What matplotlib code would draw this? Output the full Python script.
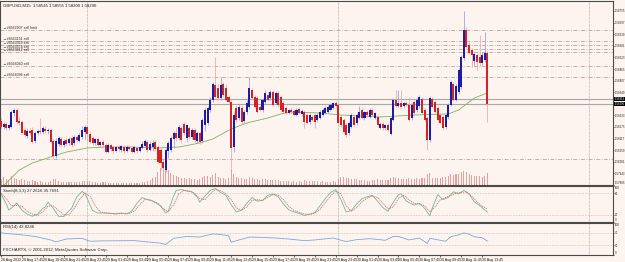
import matplotlib
matplotlib.use('Agg')
import matplotlib.pyplot as plt
import matplotlib.transforms as mtransforms
from matplotlib import font_manager

W, H = 625, 262
BG = '#fdf4ef'

# ---------------- data (GBPUSD M15, bar 0 = 28 Aug 2012 15:45) ----------------
open_ = [1.58205,1.58175,1.58190,1.58170,1.58175,1.58245,1.58260,1.58205,1.58200,1.58160,
 1.58130,1.58155,1.58160,1.58105,1.58145,1.58155,1.58150,1.58165,1.58155,1.58160,
 1.58105,1.58030,1.58090,1.58115,1.58085,1.58110,1.58095,1.58120,1.58095,1.58125,
 1.58105,1.58125,1.58150,1.58175,1.58140,1.58120,1.58095,1.58115,1.58085,1.58100,
 1.58085,1.58050,1.58085,1.58075,1.58055,1.58075,1.58060,1.58075,1.58055,1.58075,
 1.58070,1.58050,1.58070,1.58055,1.58070,1.58080,1.58100,1.58060,1.58075,1.58100,
 1.58075,1.58060,1.58000,1.57960,1.58055,1.58060,1.58115,1.58145,1.58120,1.58170,
 1.58190,1.58120,1.58170,1.58125,1.58160,1.58105,1.58145,1.58105,1.58185,1.58195,
 1.58260,1.58310,1.58385,1.58370,1.58320,1.58390,1.58370,1.58325,1.58300,1.58075,
 1.58270,1.58220,1.58270,1.58205,1.58250,1.58275,1.58360,1.58325,1.58320,1.58275,
 1.58260,1.58300,1.58335,1.58320,1.58350,1.58295,1.58345,1.58325,1.58295,1.58270,
 1.58245,1.58260,1.58255,1.58235,1.58265,1.58240,1.58250,1.58235,1.58200,1.58225,
 1.58235,1.58210,1.58220,1.58235,1.58245,1.58250,1.58260,1.58270,1.58295,1.58285,
 1.58225,1.58210,1.58185,1.58145,1.58175,1.58225,1.58195,1.58220,1.58260,1.58220,
 1.58250,1.58225,1.58260,1.58220,1.58225,1.58170,1.58190,1.58170,1.58185,1.58140,
 1.58210,1.58310,1.58280,1.58295,1.58280,1.58295,1.58285,1.58220,1.58300,1.58260,
 1.58280,1.58315,1.58260,1.58220,1.58110,1.58315,1.58300,1.58270,1.58235,1.58225,
 1.58175,1.58225,1.58285,1.58390,1.58310,1.58350,1.58375,1.58520,1.58660,1.58585,
 1.58560,1.58505,1.58535,1.58525,1.58495,1.58510,1.58545]
high = [1.58220,1.58200,1.58200,1.58190,1.58260,1.58270,1.58270,1.58225,1.58210,1.58175,
 1.58170,1.58170,1.58175,1.58155,1.58165,1.58220,1.58180,1.58180,1.58170,1.58170,
 1.58115,1.58120,1.58130,1.58125,1.58115,1.58125,1.58125,1.58130,1.58135,1.58135,
 1.58145,1.58180,1.58185,1.58180,1.58150,1.58130,1.58120,1.58125,1.58105,1.58110,
 1.58095,1.58095,1.58090,1.58080,1.58080,1.58085,1.58085,1.58085,1.58085,1.58085,
 1.58080,1.58080,1.58075,1.58080,1.58105,1.58115,1.58110,1.58105,1.58110,1.58110,
 1.58085,1.58075,1.58020,1.58070,1.58105,1.58130,1.58155,1.58170,1.58185,1.58180,
 1.58200,1.58190,1.58180,1.58170,1.58170,1.58155,1.58155,1.58220,1.58270,1.58280,
 1.58325,1.58400,1.58525,1.58390,1.58425,1.58400,1.58390,1.58335,1.58310,1.58250,
 1.58285,1.58290,1.58280,1.58260,1.58310,1.58425,1.58370,1.58335,1.58330,1.58285,
 1.58320,1.58360,1.58350,1.58360,1.58360,1.58355,1.58355,1.58335,1.58305,1.58280,
 1.58265,1.58275,1.58265,1.58270,1.58275,1.58265,1.58260,1.58245,1.58245,1.58235,
 1.58245,1.58245,1.58260,1.58270,1.58280,1.58285,1.58295,1.58300,1.58305,1.58295,
 1.58235,1.58220,1.58195,1.58205,1.58245,1.58235,1.58245,1.58280,1.58270,1.58255,
 1.58260,1.58270,1.58270,1.58250,1.58235,1.58200,1.58200,1.58190,1.58195,1.58225,
 1.58320,1.58360,1.58360,1.58360,1.58300,1.58305,1.58325,1.58295,1.58310,1.58320,
 1.58335,1.58325,1.58270,1.58230,1.58330,1.58325,1.58310,1.58280,1.58245,1.58235,
 1.58245,1.58295,1.58410,1.58400,1.58390,1.58470,1.58535,1.58755,1.58675,1.58600,
 1.58570,1.58550,1.58545,1.58635,1.58550,1.58650,1.58555]
low = [1.58165,1.58165,1.58160,1.58160,1.58170,1.58230,1.58190,1.58185,1.58140,1.58125,
 1.58120,1.58135,1.58095,1.58095,1.58135,1.58140,1.58140,1.58145,1.58140,1.58095,
 1.58020,1.58020,1.58080,1.58075,1.58075,1.58080,1.58085,1.58075,1.58085,1.58100,
 1.58100,1.58115,1.58115,1.58105,1.58095,1.58085,1.58085,1.58075,1.58075,1.58075,
 1.58045,1.58045,1.58055,1.58045,1.58050,1.58055,1.58050,1.58045,1.58050,1.58060,
 1.58045,1.58045,1.58045,1.58050,1.58065,1.58075,1.58050,1.58055,1.58055,1.58055,
 1.57995,1.57960,1.57950,1.57950,1.58020,1.58050,1.58070,1.58105,1.58110,1.58095,
 1.58135,1.58100,1.58115,1.58115,1.58100,1.58095,1.58090,1.58095,1.58155,1.58185,
 1.58250,1.58300,1.58320,1.58310,1.58310,1.58325,1.58305,1.58290,1.57970,1.58050,
 1.58200,1.58210,1.58190,1.58195,1.58240,1.58265,1.58310,1.58270,1.58245,1.58255,
 1.58250,1.58290,1.58305,1.58310,1.58280,1.58285,1.58275,1.58255,1.58245,1.58240,
 1.58240,1.58240,1.58230,1.58230,1.58240,1.58230,1.58170,1.58190,1.58190,1.58205,
 1.58170,1.58200,1.58215,1.58230,1.58240,1.58245,1.58255,1.58265,1.58275,1.58190,
 1.58175,1.58145,1.58125,1.58135,1.58170,1.58180,1.58185,1.58215,1.58215,1.58210,
 1.58230,1.58220,1.58230,1.58215,1.58180,1.58165,1.58160,1.58160,1.58155,1.58135,
 1.58205,1.58275,1.58275,1.58270,1.58270,1.58280,1.58205,1.58210,1.58240,1.58250,
 1.58270,1.58240,1.58205,1.58060,1.58100,1.58270,1.58245,1.58205,1.58190,1.58160,
 1.58165,1.58215,1.58280,1.58305,1.58305,1.58340,1.58365,1.58510,1.58570,1.58540,
 1.58475,1.58480,1.58460,1.58480,1.58485,1.58500,1.58200]
close = [1.58175,1.58190,1.58170,1.58185,1.58250,1.58260,1.58200,1.58195,1.58145,1.58135,
 1.58155,1.58145,1.58100,1.58145,1.58155,1.58150,1.58170,1.58155,1.58160,1.58100,
 1.58030,1.58105,1.58120,1.58085,1.58105,1.58090,1.58115,1.58085,1.58125,1.58110,
 1.58135,1.58160,1.58175,1.58140,1.58100,1.58095,1.58115,1.58085,1.58100,1.58085,
 1.58050,1.58085,1.58065,1.58055,1.58075,1.58065,1.58080,1.58055,1.58075,1.58065,
 1.58050,1.58075,1.58055,1.58075,1.58090,1.58105,1.58060,1.58090,1.58095,1.58065,
 1.58000,1.57995,1.57970,1.58060,1.58095,1.58120,1.58145,1.58120,1.58175,1.58110,
 1.58145,1.58185,1.58125,1.58160,1.58110,1.58145,1.58100,1.58210,1.58260,1.58270,
 1.58310,1.58390,1.58325,1.58320,1.58385,1.58335,1.58310,1.58300,1.58070,1.58235,
 1.58210,1.58275,1.58200,1.58250,1.58295,1.58370,1.58320,1.58275,1.58250,1.58260,
 1.58310,1.58345,1.58310,1.58350,1.58285,1.58345,1.58285,1.58260,1.58250,1.58245,
 1.58260,1.58250,1.58235,1.58260,1.58245,1.58255,1.58200,1.58195,1.58235,1.58210,
 1.58200,1.58235,1.58250,1.58260,1.58270,1.58275,1.58285,1.58295,1.58280,1.58195,
 1.58185,1.58150,1.58135,1.58195,1.58235,1.58185,1.58235,1.58250,1.58220,1.58250,
 1.58235,1.58260,1.58235,1.58245,1.58185,1.58190,1.58170,1.58185,1.58160,1.58220,
 1.58310,1.58280,1.58295,1.58275,1.58295,1.58285,1.58210,1.58285,1.58245,1.58310,
 1.58325,1.58245,1.58210,1.58110,1.58320,1.58275,1.58250,1.58210,1.58195,1.58170,
 1.58235,1.58285,1.58400,1.58310,1.58380,1.58460,1.58525,1.58660,1.58575,1.58545,
 1.58535,1.58540,1.58500,1.58495,1.58535,1.58545,1.58290]
volume = [350,420,300,280,480,380,300,260,330,280, 240,200,260,220,180,210,190,170,160,230,
 330,300,200,180,160,150,170,140,160,150, 180,220,240,200,220,160,150,130,120,140,
 150,130,110,120,100,110,90,100,110,90, 120,100,110,130,160,180,200,260,380,450,
 700,900,1000,950,800,650,550,480,420,380, 400,350,380,300,330,280,350,420,500,480,
 450,560,650,420,400,360,350,380,850,620, 420,380,400,330,350,450,380,320,300,280,
 300,320,280,260,290,270,250,240,230,210, 200,190,210,180,200,190,260,240,220,200,
 230,210,190,200,180,170,190,200,180,300, 420,450,400,380,350,300,320,280,260,250,
 240,230,260,250,300,280,260,250,270,380, 450,400,380,350,330,300,380,350,330,360,
 340,380,400,600,650,400,380,360,400,420, 450,500,600,550,580,620,680,750,700,600,
 520,480,500,470,450,500,650]

ma_bar = [0,2,7,12,19,25,33,40,50,60,68,76,81,88,94,102,107,111,122,130,145,158,171,175,178,181,186]
ma_val = [1.57870,1.57895,1.57960,1.57995,1.58025,1.58050,1.58070,1.58075,1.58075,1.58070,
          1.58075,1.58095,1.58115,1.58165,1.58195,1.58220,1.58240,1.58250,1.58245,1.58235,
          1.58225,1.58235,1.58240,1.58260,1.58290,1.58320,1.58345]

stoch_bar = [0,2,3,5,6,8,10,12,14,16,17,18,20,22,24,25,27,29,31,32,33,35,37,39,42,44,46,48,50,52,
             54,56,58,61,63,64,66,67,69,71,73,75,76,78,80,82,84,86,88,90,92,94,96,98,100,102,104,
             106,108,110,112,114,116,118,120,122,124,126,128,130,132,134,136,138,140,142,144,146,
             148,150,152,153,155,158,160,162,164,165,167,169,171,173,175,177,179,181,183,186]
stoch_main = [78,50,33,45,53,33,22,16,22,38,42,55,38,16,15,24,38,70,85,80,65,32,25,25,24,22,25,22,
              30,52,68,62,58,45,25,31,72,88,90,86,84,70,55,72,88,93,82,74,48,28,33,52,68,58,60,74,
              78,70,50,34,28,24,18,22,26,45,65,82,90,62,28,32,50,64,70,74,58,40,30,55,76,78,58,47,
              52,38,17,40,76,62,68,84,78,88,78,56,46,27.2616]
sig_bar = [0,2,4,6,8,10,12,14,16,18,20,22,24,26,28,30,32,34,36,38,40,43,46,49,51,53,55,57,60,62,64,
           66,68,70,72,74,76,78,80,82,84,86,88,90,92,94,96,98,100,102,104,106,108,110,112,114,116,
           118,120,122,124,126,128,130,132,134,136,138,140,142,144,146,148,150,152,154,156,158,160,
           162,164,166,168,170,172,174,176,178,180,182,184,186]
stoch_sig = [80,65,45,46,44,30,22,18,28,44,45,32,20,20,38,62,80,72,45,28,25,24,24,24,30,48,62,62,
             52,38,28,48,78,88,86,80,65,62,78,90,87,78,62,40,32,42,60,62,60,68,76,75,62,44,32,27,22,
             21,24,35,54,72,86,78,45,30,40,56,66,72,68,52,36,42,65,74,62,52,50,45,28,42,62,68,74,80,
             82,84,72,56,44,35.7691]

rsi_bar = [0,8,13,19,21,25,31,34,38,51,61,63,66,71,76,81,84,87,88,91,95,100,105,110,116,120,127,
           131,132,136,141,147,150,152,156,160,163,164,168,170,172,175,177,179,181,184,186]
rsi_val = [69,63,58,47,41,50,52,43,44,45,37,33,52,58,56,66,64,60,40,47,56,55,53,50,45,47,53,44,42,
           48,51,46,58,58,47,53,36,52,46,43,57,63,69,65,57,54,43.8246]

order_price = [1.58660,1.58605,1.58585,1.58565,1.58550,1.58480,1.58425]
order_label = ['#4562907 sell limit','#4563151 sell','#4563369 sell','#4563574 sell',
               '#4563612 sell','#4564040 sell','#4564396 sell']
extra_level = 1.58015
ask_price = 1.58315
bid_price = 1.58290

price_ticks = [1.58755,1.58697,1.58639,1.58581,1.58523,1.58465,1.58407,1.58349,1.58233,
               1.58175,1.58117,1.58059,1.58001,1.57943,1.57885]
time_ticks = list(range(0, 185, 8))
time_labels = ['28 Aug 2012','28 Aug 17:45','28 Aug 19:45','28 Aug 21:45','28 Aug 23:45',
               '29 Aug 01:45','29 Aug 03:45','29 Aug 05:45','29 Aug 07:45','29 Aug 09:45',
               '29 Aug 11:45','29 Aug 13:45','29 Aug 15:45','29 Aug 17:45','29 Aug 19:45',
               '29 Aug 21:45','29 Aug 23:45','30 Aug 01:45','30 Aug 03:45','30 Aug 05:45',
               '30 Aug 07:45','30 Aug 09:45','30 Aug 11:45','30 Aug 13:45']
day_breaks = [33, 129, 225]

# ---------------- figure ----------------
plt.rcParams['font.family'] = ['Liberation Sans', 'DejaVu Sans']
names = {f.name for f in font_manager.fontManager.ttflist}
NARROW = ['Liberation Sans Narrow'] if 'Liberation Sans Narrow' in names else ['Liberation Sans']

fig = plt.figure(figsize=(6.25, 2.62), dpi=100)
fig.patch.set_facecolor(BG)

def fy(py):
    return 1 - py / H

PX = 2.615
xl = (-1 / PX, (613 - 1) / PX)
TXT = '#202020'
FS = 3.1
FSR = 2.4 if NARROW[0].endswith('Narrow') else 2.05

ax = fig.add_axes([0, fy(185), 613 / W, 184 / H])
axs = fig.add_axes([0, fy(222), 613 / W, 36 / H])
axr = fig.add_axes([0, fy(255), 613 / W, 32 / H])

# volume on its own (twin) scale
axv = ax.twinx()
axv.set_ylim(0, 10000)
axv.set_yticks([])
for s in axv.spines.values():
    s.set_visible(False)
axv.bar(range(len(volume)), volume, width=0.4, color='#e6a0a0', lw=0, zorder=1)
ax.set_zorder(axv.get_zorder() + 1)
ax.patch.set_visible(False)
axv.set_xlim(*xl)
fig.patches.append(plt.Rectangle((0, fy(185)), 613 / W, 184 / H, transform=fig.transFigure,
                                 facecolor=BG, edgecolor='none', zorder=-10))

for a in (ax, axs, axr):
    a.set_xlim(*xl)
    for s in a.spines.values():
        s.set_color('#4a4a4a')
        s.set_linewidth(0.8)
    a.tick_params(axis='x', bottom=False, labelbottom=False)
    a.yaxis.tick_right()
    a.tick_params(axis='y', left=False, labelleft=False, right=True, labelright=True,
                  length=1.0, width=0.5, labelsize=FSR, pad=0.3, colors=TXT)
    for d in day_breaks:
        a.axvline(d, color='#9a9a9a', lw=0.5, ls=(0, (1, 1)), zorder=1)
axs.set_facecolor(BG)
axr.set_facecolor(BG)

ax.set_ylim(1.57885, 1.58805)
ax.set_yticks(price_ticks)
ax.set_yticklabels(['%.5f' % v for v in price_ticks])
ax.get_yticklabels()[-1].set_va('bottom')
for a in (ax, axs, axr):
    for lab in a.get_yticklabels():
        lab.set_family(NARROW)

# order lines
for p, lab in zip(order_price, order_label):
    ax.axhline(p, color='#b99a9a', lw=0.55, ls=(0, (5, 2, 1, 2)), zorder=2)
    ax.text(0.6, p + 0.00002, '\u2192' + lab, fontsize=2.6, color=TXT, va='bottom', ha='left', zorder=6)
ax.axhline(extra_level, color='#b99a9a', lw=0.55, ls=(0, (5, 2, 1, 2)), zorder=2)
ax.axhline(ask_price, color='#a8a8a8', lw=0.8, zorder=2)
ax.axhline(bid_price, color='#a8a8a8', lw=0.8, zorder=2)

# moving average
ax.plot(ma_bar, ma_val, color='#86ad63', lw=0.6, zorder=3)

# candles
n = len(close)
for i in range(n):
    o, h, l, c = open_[i], high[i], low[i], close[i]
    bull = c >= o
    ax.vlines(i, l, h, color='#9a9ae0' if bull else '#e8a8a8', lw=0.55, zorder=4)
    ax.bar(i, max(abs(c - o), 0.00003), bottom=min(o, c), width=0.78,
           color='#1c1ca8' if bull else '#d52323', lw=0, zorder=5)

# price boxes
trans = mtransforms.blended_transform_factory(ax.transAxes, ax.transData)
for p in (ask_price, bid_price):
    ax.text(1.0022, p, '%.5f' % p, transform=trans, fontsize=FSR - 0.1, color='white', va='center',
            ha='left', clip_on=False, zorder=10, family=NARROW,
            bbox=dict(boxstyle='square,pad=0.1', facecolor='black', edgecolor='none'))

ax.text(0.005, 0.985, 'GBPUSD,M15  %.5f %.5f %.5f %.5f' % (open_[-1], high[-1], low[-1], close[-1]),
        transform=ax.transAxes, fontsize=FS, color=TXT, va='top', ha='left')

# stochastic
axs.set_ylim(0, 100)
axs.set_yticks([0, 20, 80, 100])
axs.set_yticklabels(['0', '20', '80', '100'])
tl = axs.get_yticklabels()
tl[0].set_va('bottom'); tl[-1].set_va('top')
for lab in tl:
    lab.set_family(NARROW)
for lv in (20, 80):
    axs.axhline(lv, color='#b0a8a8', lw=0.45, ls=(0, (1, 1.5)))
axs.plot(stoch_bar, stoch_main, color='#6fb897', lw=0.6)
axs.plot(sig_bar, stoch_sig, color='#e06a6a', lw=0.6, ls=(0, (1.5, 1)))
axs.text(0.005, 0.93, 'Stoch(8,3,3) 27.2616 35.7691', transform=axs.transAxes, fontsize=FS,
         color=TXT, va='top', ha='left')

# RSI
axr.set_ylim(0, 100)
axr.set_yticks([0, 30, 70, 100])
axr.set_yticklabels(['0', '30', '70', '100'])
tl = axr.get_yticklabels()
tl[0].set_va('bottom'); tl[-1].set_va('top')
for lab in tl:
    lab.set_family(NARROW)
for lv in (30, 70):
    axr.axhline(lv, color='#b0a8a8', lw=0.45, ls=(0, (1, 1.5)))
axr.plot(rsi_bar, rsi_val, color='#7ea6d8', lw=0.6)
axr.text(0.005, 0.93, 'RSI(14) 43.8246', transform=axr.transAxes, fontsize=FS,
         color=TXT, va='top', ha='left')
axr.text(0.005, 0.08, 'FXCHARTS, \u00a9 2001-2012, MetaQuotes Software Corp.', transform=axr.transAxes,
         fontsize=FS, color=TXT, va='bottom', ha='left')

axr.set_xticks(time_ticks)
axr.set_xticklabels(time_labels)
axr.tick_params(axis='x', bottom=True, labelbottom=True, length=1.5, width=0.5, pad=0.6,
                labelsize=2.6, colors=TXT)
for lab in axr.get_xticklabels():
    lab.set_ha('left')

plt.savefig('out.png', dpi=100, facecolor=BG)
